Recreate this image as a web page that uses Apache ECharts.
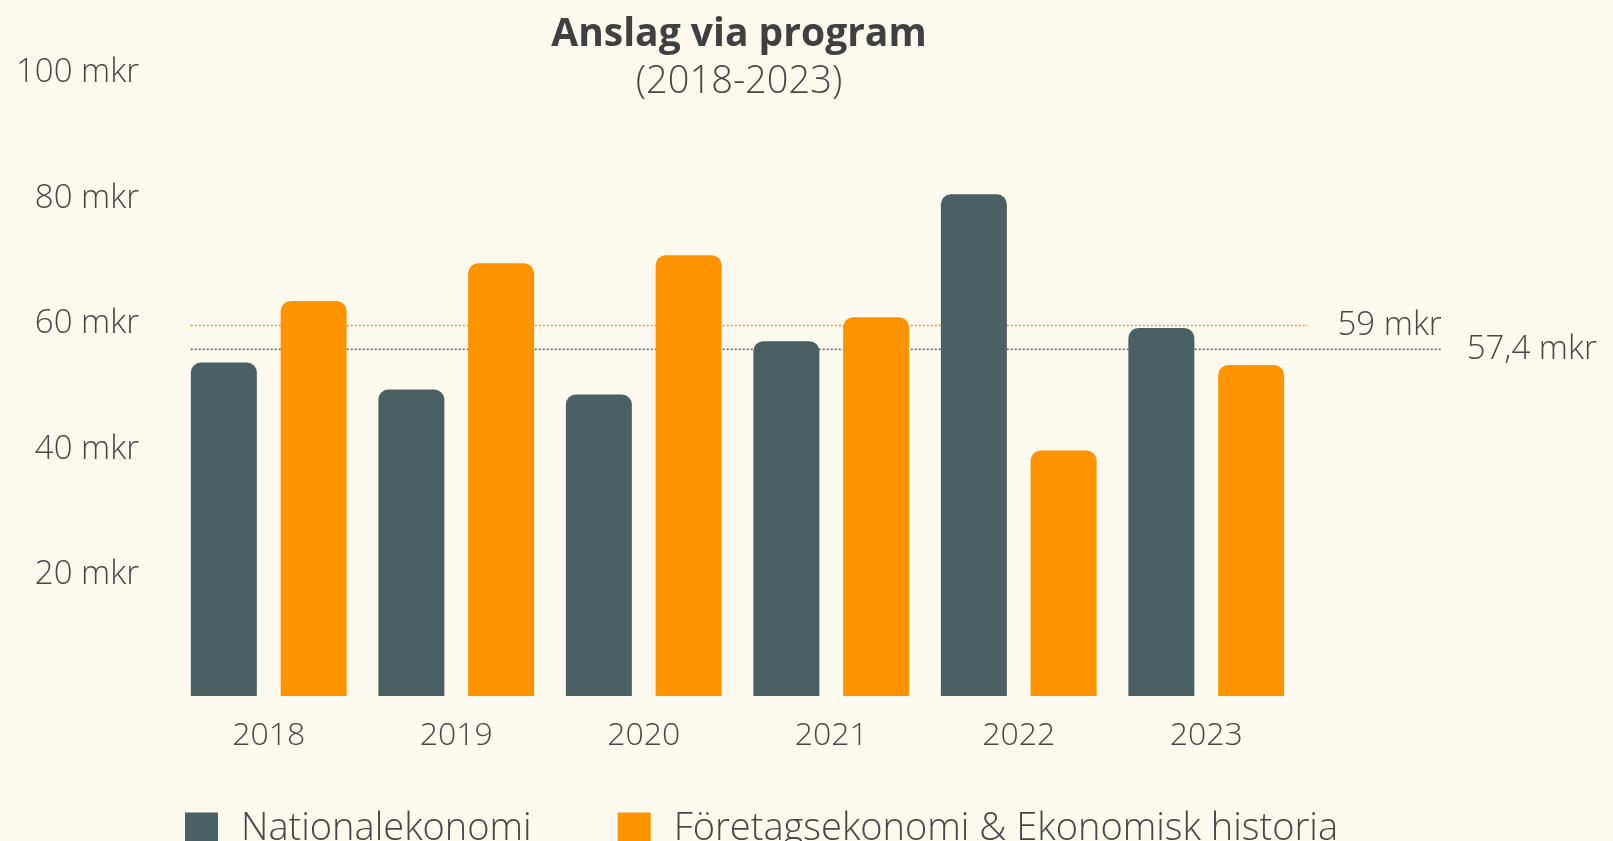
<!DOCTYPE html>
<html>
<head>
<meta charset="utf-8">
<title>Anslag via program</title>
<script src="https://cdn.jsdelivr.net/npm/echarts@6/dist/echarts.min.js"></script>
<style>
    html, body { margin: 0; padding: 0; background: #fcf9ef; }
    #chart-container { width: 1613px; height: 841px; }
</style>
</head>
<body>
<div id="chart-container"></div>
<script>
// Data
const years = ['2018', '2019', '2020', '2021', '2022', '2023'];
const nationalekonomi = [53.1, 48.8, 48.0, 56.5, 79.9, 58.6];
const foretagsekonomi = [62.9, 68.9, 70.2, 60.3, 39.1, 52.7];
const seriesNames = ['Nationalekonomi', 'Företagsekonomi & Ekonomisk historia'];

// y axis: 0..100 step 20, label "xx mkr"
const yMin = 0;
const yMax = 100;
const yStep = 20;

// dotted reference lines (level as drawn, label text, span in category units)
const refLevels = [59, 55.2];
const refLabels = ['59 mkr', '57,4 mkr'];
const refSpans = [[0.084, 6.04], [0.084, 6.75]];
const refAxisMax = 6.75;

const FONT = '"Open Sans", "DejaVu Sans", sans-serif';
const TEXT = '#474747';
const GREY = '#4a6062';
const ORANGE = '#ff9400';

window.addEventListener('load', function () {
    const dom = document.getElementById('chart-container');
    const myChart = echarts.init(dom, null, { renderer: 'canvas' });

    // one category is 187.5px wide; second grid spans refAxisMax categories
    const catWidth = (1613 - 175 - 313) / years.length;
    const refGridRight = 1613 - 175 - refAxisMax * catWidth;

    const refColors = [ORANGE, '#5a6262'];
    const refDistance = [30, 26];

    const refSeries = refLevels.map(function (level, i) {
        return {
            type: 'line',
            xAxisIndex: 1,
            yAxisIndex: 1,
            data: [[refSpans[i][0], level], [refSpans[i][1], level]],
            symbol: 'none',
            silent: true,
            clip: false,
            z: 1,
            lineStyle: { color: refColors[i], width: 1.5, type: [2, 2] },
            endLabel: {
                show: true,
                formatter: refLabels[i],
                distance: refDistance[i],
                color: TEXT,
                fontFamily: FONT,
                fontWeight: 300,
                fontSize: 33
            }
        };
    });

    const option = {
        backgroundColor: '#fcf9ef',
        animation: false,
        title: {
            text: 'Anslag via program',
            subtext: '(2018-2023)',
            left: 734,
            top: 10,
            textAlign: 'center',
            itemGap: 9,
            textStyle: { fontFamily: FONT, fontWeight: 'bold', fontSize: 39, color: '#404040' },
            subtextStyle: { fontFamily: FONT, fontWeight: 300, fontSize: 38, color: TEXT }
        },
        legend: {
            data: seriesNames,
            left: 180,
            top: 805,
            icon: 'rect',
            itemWidth: 33,
            itemHeight: 33,
            itemGap: 86,
            textStyle: {
                fontFamily: FONT,
                fontWeight: 300,
                fontSize: 38,
                color: TEXT,
                padding: [0, 0, 0, 18]
            }
        },
        grid: [
            { left: 175, right: 313, top: 68, bottom: 145, outerBoundsMode: 'none' },
            { left: 175, right: refGridRight, top: 68, bottom: 145, outerBoundsMode: 'none' }
        ],
        xAxis: [
            {
                type: 'category',
                gridIndex: 0,
                data: years,
                axisLine: { show: false },
                axisTick: { show: false },
                axisLabel: {
                    margin: 24,
                    fontFamily: FONT,
                    fontWeight: 300,
                    fontSize: 32,
                    color: TEXT
                }
            },
            {
                type: 'value',
                gridIndex: 1,
                min: 0,
                max: refAxisMax,
                show: false
            }
        ],
        yAxis: [
            {
                type: 'value',
                gridIndex: 0,
                min: yMin,
                max: yMax,
                interval: yStep,
                splitLine: { show: false },
                axisLine: { show: false },
                axisTick: { show: false },
                axisLabel: {
                    margin: 36,
                    formatter: function (v) { return v === 0 ? '' : '{v|' + v + ' mkr}'; },
                    rich: {
                        v: {
                            padding: [9, 0, 0, 0],
                            fontFamily: FONT,
                            fontWeight: 300,
                            fontSize: 33,
                            color: TEXT
                        }
                    }
                }
            },
            {
                type: 'value',
                gridIndex: 1,
                min: yMin,
                max: yMax,
                show: false
            }
        ],
        series: [
            {
                name: seriesNames[0],
                type: 'bar',
                data: nationalekonomi,
                barWidth: 66,
                barGap: '36%',
                itemStyle: { color: GREY, borderRadius: [10, 10, 0, 0] }
            },
            {
                name: seriesNames[1],
                type: 'bar',
                data: foretagsekonomi,
                barWidth: 66,
                barGap: '36%',
                itemStyle: { color: ORANGE, borderRadius: [10, 10, 0, 0] }
            }
        ].concat(refSeries)
    };

    myChart.setOption(option, true);
});
</script>
</body>
</html>
